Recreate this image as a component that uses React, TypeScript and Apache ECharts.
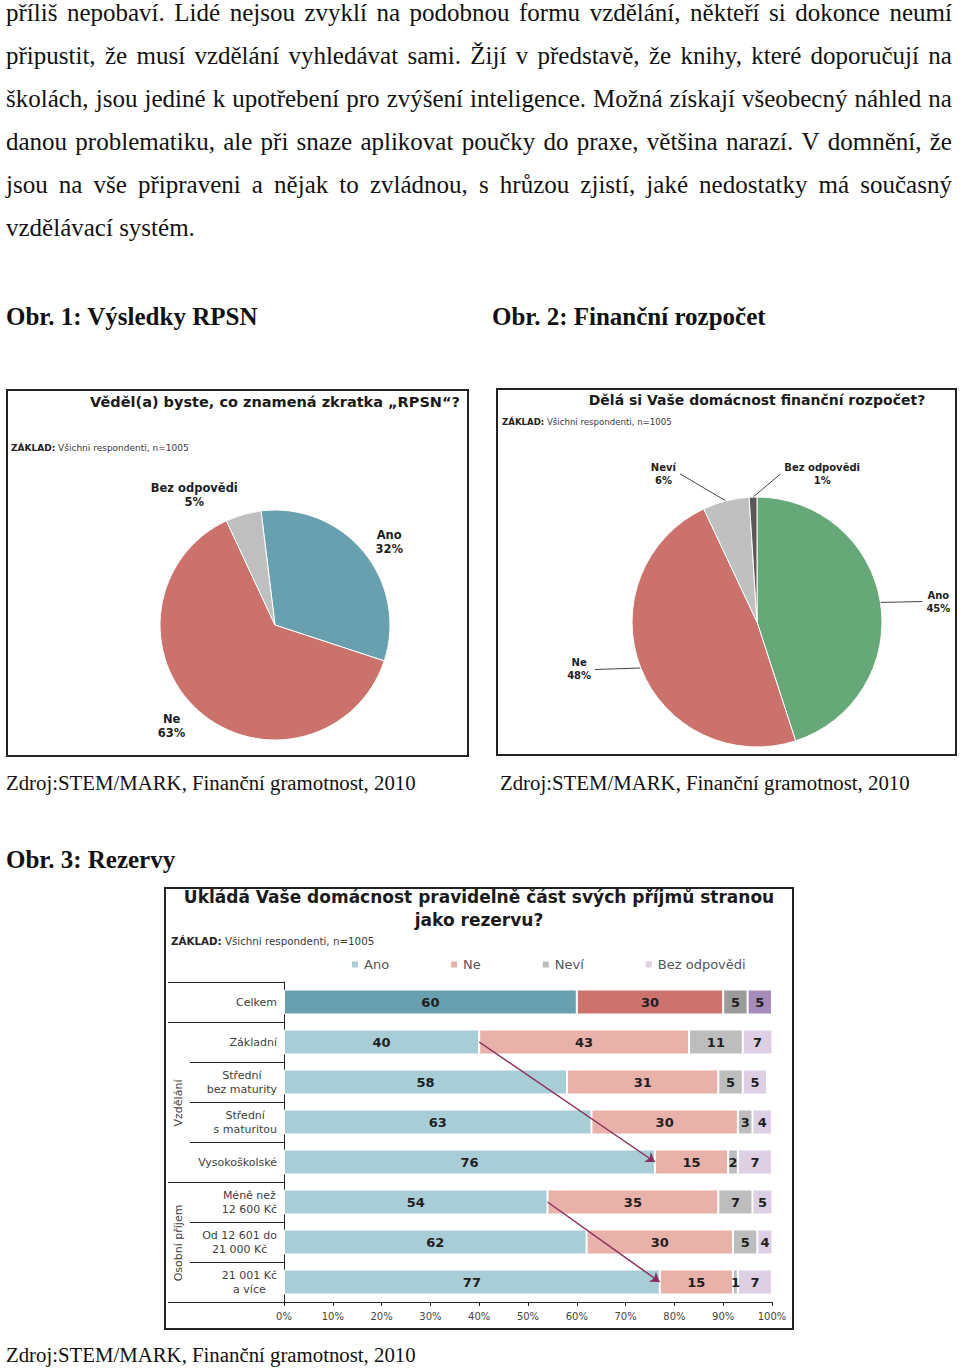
import React, { useEffect, useRef } from "react";
import * as echarts from "echarts";

// ---------- text content ----------
const paragraphLines = [
  "příliš nepobaví. Lidé nejsou zvyklí na podobnou formu vzdělání, někteří si dokonce neumí",
  "připustit, že musí vzdělání vyhledávat sami. Žijí v představě, že knihy, které doporučují na",
  "školách, jsou jediné k upotřebení pro zvýšení inteligence. Možná získají všeobecný náhled na",
  "danou problematiku, ale při snaze aplikovat poučky do praxe, většina narazí. V domnění, že",
  "jsou na vše připraveni a nějak to zvládnou, s hrůzou zjistí, jaké nedostatky má současný",
  "vzdělávací systém.",
];
const figureTitles = ["Obr. 1: Výsledky RPSN", "Obr. 2: Finanční rozpočet", "Obr. 3: Rezervy"];
const sourceText = "Zdroj:STEM/MARK, Finanční gramotnost, 2010";
const baseText = ["ZÁKLAD:", "Všichni respondenti, n=1005"];

// ---------- pie 1 ----------
const pie1Title = "Věděl(a) byste, co znamená zkratka „RPSN“?";
const pie1Names = ["Ano", "Ne", "Bez odpovědi"];
const pie1Values = [32, 63, 5];

// ---------- pie 2 ----------
const pie2Title = "Dělá si Vaše domácnost finanční rozpočet?";
const pie2Names = ["Ano", "Ne", "Neví", "Bez odpovědi"];
const pie2Values = [45, 48, 6, 1];

// ---------- bars ----------
const barTitle = ["Ukládá Vaše domácnost pravidelně část svých příjmů stranou", "jako rezervu?"];
const barRows = [
  "Celkem",
  "Základní",
  "Střední\nbez maturity",
  "Střední\ns maturitou",
  "Vysokoškolské",
  "Méně než\n12 600 Kč",
  "Od 12 601 do\n21 000 Kč",
  "21 001 Kč\na více",
];
const groupLabels = ["Vzdělání", "Osobní příjem"];
const answerNames = ["Ano", "Ne", "Neví", "Bez odpovědi"];
const anoValues = [60, 40, 58, 63, 76, 54, 62, 77];
const neValues = [30, 43, 31, 30, 15, 35, 30, 15];
const neviValues = [5, 11, 5, 3, 2, 7, 5, 1];
const bezValues = [5, 7, 5, 4, 7, 5, 4, 7];
// arrows: [from value, from row index, to value, to row index]
const arrows = [
  [40, 1, 76, 4],
  [54, 5, 77, 7],
];

// ---------- styles ----------
const SERIF = '"Liberation Serif", "Times New Roman", serif';
const SANS = '"DejaVu Sans", Verdana, sans-serif';
const pie1Colors = ["#69a0b0", "#cb726d", "#bfbfbf"];
const pie1LabelLen = [15, 20, 20];
const pie2Colors = ["#67a879", "#cb726d", "#c0c0c0", "#595959"];
const pie2LabelLen = [
  [6, 36],
  [4, 42],
  [28, 39],
  [23, 28],
];
const lightColors = ["#a9cdd7", "#e8b1a9", "#bdbdbd", "#ddd0e4"];
const darkColors = ["#69a0b0", "#cc736e", "#9b9b9b", "#a68cba"];

function buildOption() {
  const seriesVals = [anoValues, neValues, neviValues, bezValues];

  const box = (x: number, y: number, w: number, h: number) => ({
    type: "rect",
    silent: true,
    shape: { x, y, width: w, height: h },
    style: { fill: "none", stroke: "#222", lineWidth: 2 },
  });
  const baseLine = (x: number, y: number, size: number) => ({
    type: "text",
    silent: true,
    x,
    y,
    style: {
      text: `{b|${baseText[0]}} {r|${baseText[1]}}`,
      fontFamily: SANS,
      fontSize: size,
      fill: "#333",
      align: "left",
      verticalAlign: "middle",
      rich: {
        b: { fontFamily: SANS, fontSize: size, fontWeight: "bold", fill: "#222", color: "#222" },
        r: { fontFamily: SANS, fontSize: size, fill: "#3a3a3a", color: "#3a3a3a" },
      },
    },
  });
  const title = (text: string, x: number, y: number, size: number) => ({
    type: "text",
    silent: true,
    x,
    y,
    style: {
      text,
      fontFamily: SANS,
      fontWeight: "bold",
      fontSize: size,
      lineHeight: 23,
      fill: "#1a1a1a",
      align: "center",
      verticalAlign: "middle",
    },
  });
  const groupText = (text: string, x: number, y: number) => ({
    type: "text",
    silent: true,
    x,
    y,
    rotation: Math.PI / 2,
    style: {
      text,
      fontFamily: SANS,
      fontSize: 11,
      fill: "#404040",
      align: "center",
      verticalAlign: "middle",
    },
  });

  const pieLabelRich = (size: number, lh: number) => ({
    n: { align: "center", fontFamily: SANS, fontWeight: "bold", fontSize: size, lineHeight: lh, color: "#1e1e1e" },
  });

  return {
    animation: false,
    graphic: [
      box(7, 390, 461, 366),
      box(497, 389, 459, 366),
      box(165, 888, 628, 441),
      title(pie1Title, 275, 402, 14.5),
      title(pie2Title, 757, 400, 14),
      title(barTitle.join("\n"), 479, 908, 17),
      baseLine(11, 448, 9),
      baseLine(502, 422, 8.6),
      baseLine(171, 941, 10.3),
      groupText(groupLabels[0], 178, 1103),
      groupText(groupLabels[1], 178, 1243),
    ],
    legend: {
      data: answerNames,
      left: 345,
      top: 953,
      itemWidth: 8,
      itemHeight: 8,
      itemGap: 60,
      icon: "rect",
      selectedMode: false,
      textStyle: { fontFamily: SANS, fontSize: 13, color: "#555" },
    },
    grid: { left: 284, top: 982, width: 488, height: 320, containLabel: false },
    xAxis: {
      type: "value",
      min: 0,
      max: 100,
      interval: 10,
      axisLine: { show: true, lineStyle: { color: "#222", width: 1 } },
      axisTick: { show: true, length: 4, lineStyle: { color: "#222" } },
      axisLabel: { formatter: "{value}%", fontFamily: SANS, fontSize: 10, color: "#444", margin: 9 },
      splitLine: { show: false },
    },
    yAxis: [
      {
        type: "category",
        data: barRows,
        inverse: true,
        position: "left",
        axisLine: { show: true, lineStyle: { color: "#222", width: 1 } },
        axisTick: { show: true, length: 94, lineStyle: { color: "#222" } },
        axisLabel: {
          margin: 7,
          formatter: (v: string) =>
            v
              .split("\n")
              .map((s) => `{c|${s}}`)
              .join("\n"),
          rich: { c: { align: "center", fontFamily: SANS, fontSize: 11, lineHeight: 14, color: "#404040" } },
        },
        splitLine: { show: false },
      },
      {
        type: "category",
        data: barRows,
        inverse: true,
        position: "left",
        offset: 0,
        axisLine: { show: false },
        axisLabel: { show: false },
        axisTick: {
          show: true,
          length: 116,
          interval: (i: number) => i === 0 || i === 1 || i === 5,
          lineStyle: { color: "#222" },
        },
        splitLine: { show: false },
      },
    ],
    series: [
      {
        type: "pie",
        name: "pie1",
        center: [275, 625],
        radius: 115,
        startAngle: 97,
        clockwise: true,
        avoidLabelOverlap: false,
        silent: true,
        itemStyle: { borderColor: "#fff", borderWidth: 1 },
        label: {
          show: true,
          position: "outside",
          distanceToLabelLine: 0,
          formatter: "{n|{b}}\n{n|{c}%}",
          rich: pieLabelRich(11.5, 14),
        },
        labelLine: { show: false, length: 15, length2: 0 },
        data: pie1Names.map((n, i) => ({
          name: n,
          value: pie1Values[i],
          itemStyle: { color: pie1Colors[i] },
          labelLine: { show: false, length: pie1LabelLen[i], length2: 0 },
        })),
      },
      {
        type: "pie",
        name: "pie2",
        center: [757, 622],
        radius: 125,
        startAngle: 90,
        clockwise: true,
        avoidLabelOverlap: false,
        silent: true,
        itemStyle: { borderColor: "#fff", borderWidth: 1 },
        label: {
          show: true,
          position: "outside",
          distanceToLabelLine: 4,
          formatter: "{n|{b}}\n{n|{c}%}",
          rich: pieLabelRich(10, 13),
        },
        labelLine: { show: true, length: 4, length2: 40, lineStyle: { color: "#444", width: 1 } },
        labelLayout: (p: any) => {
          const pts = p.labelLinePoints;
          if (!pts) return {};
          // the tiny "Bez odpovědi" slice has its label on the right side
          if (p.dataIndex === 3) {
            const end = [2 * pts[1][0] - pts[2][0], pts[2][1]];
            return {
              x: end[0] + 4,
              y: end[1],
              align: "left",
              verticalAlign: "middle",
              labelLinePoints: [pts[0], [(pts[0][0] + end[0]) / 2, (pts[0][1] + end[1]) / 2], end],
            };
          }
          // straight leader from the slice edge to the label
          const end = pts[2];
          return {
            labelLinePoints: [pts[0], [(pts[0][0] + end[0]) / 2, (pts[0][1] + end[1]) / 2], end],
          };
        },
        data: pie2Names.map((n, i) => ({
          name: n,
          value: pie2Values[i],
          itemStyle: { color: pie2Colors[i] },
          labelLine: { length: pie2LabelLen[i][0], length2: pie2LabelLen[i][1] },
        })),
      },
      ...answerNames.map((name, si) => ({
        type: "bar",
        name,
        stack: "total",
        xAxisIndex: 0,
        yAxisIndex: 0,
        barWidth: 25,
        silent: true,
        itemStyle: { color: lightColors[si], borderColor: "#fff", borderWidth: 1 },
        label: {
          show: true,
          position: "inside",
          formatter: "{c}",
          fontFamily: SANS,
          fontWeight: "bold",
          fontSize: 13,
          color: "#1f1f1f",
        },
        data: seriesVals[si].map((v, i) => (i === 0 ? { value: v, itemStyle: { color: darkColors[si] } } : v)),
        ...(si === 0
          ? {
              markLine: {
                silent: true,
                symbol: ["none", "arrow"],
                symbolSize: 9,
                label: { show: false },
                lineStyle: { color: "#8b2f5e", width: 1.5, type: "solid" },
                data: arrows.map((a) => [{ coord: [a[0], a[1]] }, { coord: [a[2], a[3]] }]),
              },
            }
          : {}),
      })),
    ],
  };
}

const serifText = (size: number, bold = false): React.CSSProperties => ({
  fontFamily: SERIF,
  fontSize: size,
  fontWeight: bold ? 700 : 400,
  color: "#111",
  whiteSpace: "nowrap",
});

function Line({ text, x, baseline, size, bold }: { text: string; x: number; baseline: number; size: number; bold?: boolean }) {
  return (
    <div
      style={{
        position: "absolute",
        left: x,
        top: baseline - 0.8375 * size,
        lineHeight: `${size}px`,
        ...serifText(size, bold),
      }}
    >
      {text}
    </div>
  );
}

export default function App() {
  const ref = useRef<HTMLDivElement>(null);
  useEffect(() => {
    document.body.style.margin = "0";
    if (!ref.current) return;
    const chart = echarts.init(ref.current, null, { renderer: "svg" });
    chart.setOption(buildOption() as any);
    return () => chart.dispose();
  }, []);

  const pSize = 25;
  const pLH = 43;
  return (
    <div style={{ position: "relative", width: 960, height: 1369, background: "#fff", overflow: "hidden" }}>
      <div ref={ref} style={{ position: "absolute", left: 0, top: 0, width: 960, height: 1369 }} />
      {paragraphLines.map((t, i) => {
        const last = i === paragraphLines.length - 1;
        const words = t.split(" ");
        return (
          <div
            key={i}
            style={{
              position: "absolute",
              left: 6,
              width: 946,
              top: -9 + pLH * i,
              height: pLH,
              lineHeight: `${pLH}px`,
              display: "flex",
              justifyContent: last ? "flex-start" : "space-between",
              gap: last ? "0.25em" : 0,
              ...serifText(pSize),
            }}
          >
            {words.map((w, j) => (
              <span key={j}>{w}</span>
            ))}
          </div>
        );
      })}
      <Line text={figureTitles[0]} x={6} baseline={325} size={25} bold />
      <Line text={figureTitles[1]} x={492} baseline={325} size={25} bold />
      <Line text={sourceText} x={6} baseline={790} size={20.8} />
      <Line text={sourceText} x={500} baseline={790} size={20.8} />
      <Line text={figureTitles[2]} x={6} baseline={868} size={25} bold />
      <Line text={sourceText} x={6} baseline={1362} size={20.8} />
    </div>
  );
}
